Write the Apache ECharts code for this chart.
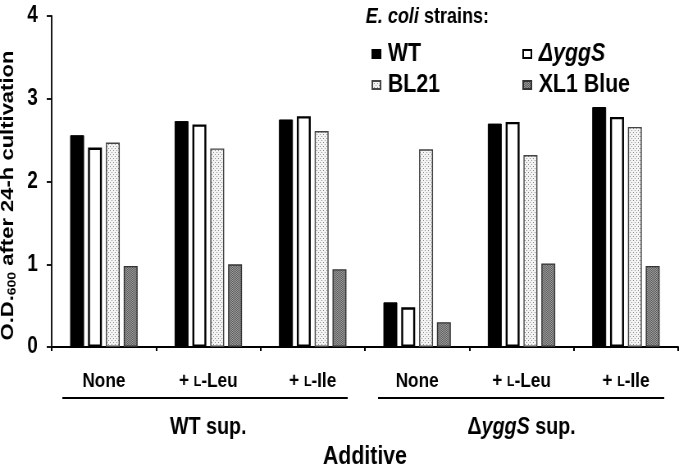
<!DOCTYPE html>
<html>
<head>
<meta charset="utf-8">
<script src="https://cdn.jsdelivr.net/npm/echarts@6/dist/echarts.min.js"></script>
<style>
html,body{margin:0;padding:0;background:#fff;overflow:hidden;width:680px;height:468px}
#c{width:829px;height:468px;transform:scaleX(0.82);transform-origin:0 0}
</style>
</head>
<body>
<div id="c"></div>
<script>
var categories = ['None', '+ L-Leu', '+ L-Ile', 'None', '+ L-Leu', '+ L-Ile'];
var groups = ['WT sup.', 'ΔyggS sup.'];
var seriesNames = ['WT', 'ΔyggS', 'BL21', 'XL1 Blue'];
var wtValues = [2.56, 2.73, 2.75, 0.54, 2.70, 2.90];
var yggsValues = [2.41, 2.69, 2.79, 0.48, 2.72, 2.78];
var bl21Values = [2.47, 2.40, 2.61, 2.39, 2.32, 2.66];
var xl1Values = [0.98, 1.00, 0.94, 0.30, 1.01, 0.98];
var yTicks = [0, 1, 2, 3, 4];

var FONT = "'Liberation Sans', Arial, sans-serif";

function makePattern(size, bg, dots, dotColor) {
  var cv = document.createElement('canvas');
  cv.width = size; cv.height = size;
  var ctx = cv.getContext('2d');
  ctx.fillStyle = bg; ctx.fillRect(0, 0, size, size);
  ctx.fillStyle = dotColor;
  dots.forEach(function (d) { ctx.fillRect(d[0], d[1], 1, 1); });
  return cv;
}
var bl21Pat = makePattern(4, '#f4f4f4', [[0,0],[2,2]], '#8a8a8a');
var xl1Pat = makePattern(2, '#a0a0a0', [[0,0],[1,1]], '#5a5a5a');

var chart = echarts.init(document.getElementById('c'), null, {renderer: 'canvas', width: 829, height: 468});

var valuesList = [wtValues, yggsValues, bl21Values, xl1Values];
var styles = [
  {color: '#000', borderColor: '#000', borderWidth: 1},
  {color: '#fff', borderColor: '#000', borderWidth: 2.4},
  {color: {image: bl21Pat, repeat: 'repeat'}, borderColor: '#444', borderWidth: 1.4},
  {color: {image: xl1Pat, repeat: 'repeat'}, borderColor: '#333', borderWidth: 1.4}
];

var series = seriesNames.map(function (n, i) {
  return {
    name: n, type: 'bar', xAxisIndex: 0, yAxisIndex: 0,
    barWidth: 17, barGap: '28%',
    itemStyle: styles[i],
    data: valuesList[i]
  };
});

var legendText = {
  fontFamily: FONT, fontWeight: 'bold', fontSize: 26, color: '#000', padding: [0, 0, 0, 4],
  rich: {i: {fontFamily: FONT, fontWeight: 'bold', fontStyle: 'italic', fontSize: 26, color: '#000'}}
};
function legendFmt(n) { return n === 'ΔyggS' ? '{i|ΔyggS}' : n; }

chart.setOption({
  animation: false,
  backgroundColor: '#fff',
  textStyle: {fontFamily: FONT},
  title: {
    text: '{i|E. coli} strains:',
    left: 441, top: 1,
    textStyle: {
      fontFamily: FONT, fontWeight: 'bold', fontSize: 22, color: '#000',
      rich: {i: {fontFamily: FONT, fontWeight: 'bold', fontStyle: 'italic', fontSize: 22, color: '#000'}}
    }
  },
  legend: [
    {data: [seriesNames[0], seriesNames[2]], orient: 'vertical', left: 448, top: 36,
     itemWidth: 10, itemHeight: 8, itemGap: 5, icon: 'rect', textStyle: legendText, formatter: legendFmt},
    {data: [seriesNames[1], seriesNames[3]], orient: 'vertical', left: 632, top: 36,
     itemWidth: 10, itemHeight: 8, itemGap: 5, icon: 'rect', textStyle: legendText, formatter: legendFmt}
  ],
  grid: {left: 63, right: 2, top: 16, bottom: 121, containLabel: false, outerBoundsMode: 'none'},
  xAxis: [
    {
      type: 'category', data: categories, position: 'bottom',
      axisLine: {lineStyle: {color: '#000', width: 2}},
      axisTick: {show: true, length: 4, lineStyle: {color: '#000', width: 2}},
      axisLabel: {
        margin: 24, interval: 0, color: '#000', fontFamily: FONT, fontWeight: 'bold', fontSize: 21,
        formatter: function (v) { return v.replace('L-', '{sc|L}-'); },
        rich: {sc: {fontFamily: FONT, fontWeight: 'bold', fontSize: 15, color: '#000'}}
      }
    },
    {
      type: 'category', data: groups, position: 'bottom', offset: 60,
      axisLine: {show: false}, axisTick: {show: false},
      axisLabel: {
        margin: 8, interval: 0, color: '#000', fontFamily: FONT, fontWeight: 'bold', fontSize: 24,
        formatter: function (v) { return v.indexOf('Δ') === 0 ? 'Δ{i|yggS} sup.' : v; },
        rich: {i: {fontFamily: FONT, fontWeight: 'bold', fontStyle: 'italic', fontSize: 24, color: '#000'}}
      },
      name: 'Additive', nameLocation: 'middle', nameGap: 35,
      nameTextStyle: {fontFamily: FONT, fontWeight: 'bold', fontSize: 26, color: '#000'}
    }
  ],
  yAxis: {
    type: 'value', min: yTicks[0], max: yTicks[yTicks.length - 1], interval: 1,
    splitLine: {show: false},
    axisLine: {show: true, lineStyle: {color: '#000', width: 1.8}},
    axisTick: {show: true, length: 6, lineStyle: {color: '#000', width: 1.8}},
    axisLabel: {margin: 17, color: '#000', fontFamily: FONT, fontWeight: 'bold', fontSize: 23},
    name: '{b|O.D.}{s|600}{b| after 24-h cultivation}',
    nameLocation: 'middle', nameRotate: 90, nameGap: 39,
    nameTextStyle: {
      padding: [0, 28, 0, 0],
      rich: {
        b: {fontFamily: FONT, fontWeight: 'bold', fontSize: 22, color: '#000', lineHeight: 24},
        s: {fontFamily: FONT, fontWeight: 'bold', fontSize: 14, color: '#000', verticalAlign: 'bottom', lineHeight: 24, padding: [6, 0, 0, 0]}
      }
    }
  },
  graphic: [
    {type: 'line', shape: {x1: 76, y1: 398, x2: 424, y2: 398}, style: {stroke: '#000', lineWidth: 2}},
    {type: 'line', shape: {x1: 461, y1: 398, x2: 810, y2: 398}, style: {stroke: '#000', lineWidth: 2}}
  ],
  series: series
});
</script>
</body>
</html>
